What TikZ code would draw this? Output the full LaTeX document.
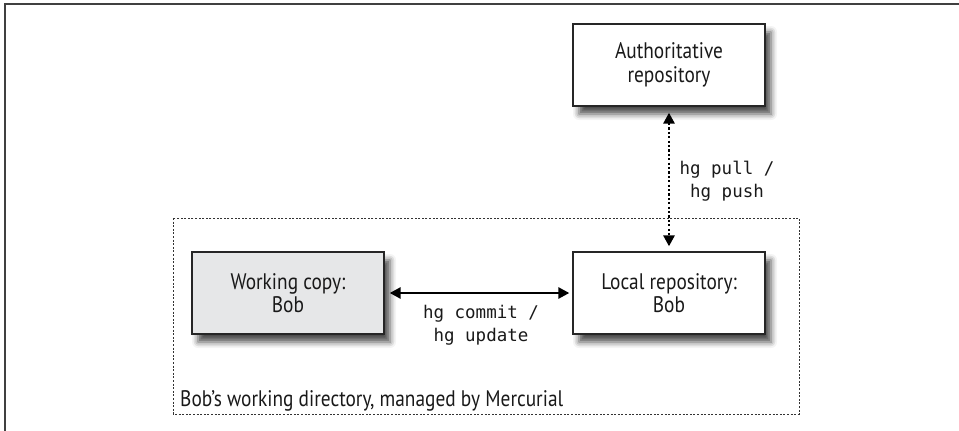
\documentclass[tikz,border=0pt]{standalone}
\usepackage{fontspec}
\setmainfont{PT Sans}[FakeStretch=0.86]
\setmonofont{DejaVu Sans Mono}
\usetikzlibrary{arrows.meta,shadows.blur}
\definecolor{boxgray}{HTML}{E6E7E8}
\tikzset{
  repobox/.style={draw=black!85, line width=1.3pt, minimum width=192pt, minimum height=82pt,
    align=center, font=\fontsize{22.5}{23.5}\selectfont, fill=white, inner sep=0pt, text=black!90,
    blur shadow={shadow xshift=6pt, shadow yshift=-8pt, shadow blur radius=6pt, shadow opacity=70}},
  cmdlabel/.style={align=center, font=\ttfamily\fontsize{17.5}{23}\selectfont, inner sep=0pt, text=black!90},
  bothtips/.style={{Triangle[length=11pt,width=11pt]}-{Triangle[length=11pt,width=11pt]}},
  frameline/.style={draw=black!75, line width=1.6pt},
  container/.style={draw=black!80, line width=0.9pt, dash pattern=on 2pt off 1.6pt}
}
\begin{document}
\begin{tikzpicture}[x=1pt,y=-1pt]
\useasboundingbox (0,0) rectangle (959,431);
% outer frame (cropped)
\coordinate (fbl) at (5,432);
\coordinate (ftl) at (5,4);
\coordinate (ftr) at (960,4);
\draw[frameline] (fbl) -- (ftl) -- (ftr);
% container
\draw[container] (173,218) rectangle (799,414);
\node[anchor=base west, font=\fontsize{22.5}{23.5}\selectfont, inner sep=0pt, text=black!90] (lbl) at (180,406) {Bob’s working directory, managed by Mercurial};
% boxes
\node[repobox] (auth) at (669,65) {Authoritative\\repository};
\node[repobox, fill=boxgray] (work) at (288,293) {Working copy:\\Bob};
\node[repobox] (local) at (669,293) {Local repository:\\Bob};
% connectors
\draw[bothtips, line width=2.6pt, shorten <=5pt, shorten >=3pt] (work.east) -- (local.west);
\draw[bothtips, line width=2.8pt, dash pattern=on 2.2pt off 2.2pt, shorten <=6pt, shorten >=5pt] (auth.south) -- (local.north);
% labels
\node[cmdlabel] (pp) at (727,181) {hg pull /\\hg push};
\node[cmdlabel] (cu) at (481,325) {hg commit /\\hg update};
\end{tikzpicture}
\end{document}
